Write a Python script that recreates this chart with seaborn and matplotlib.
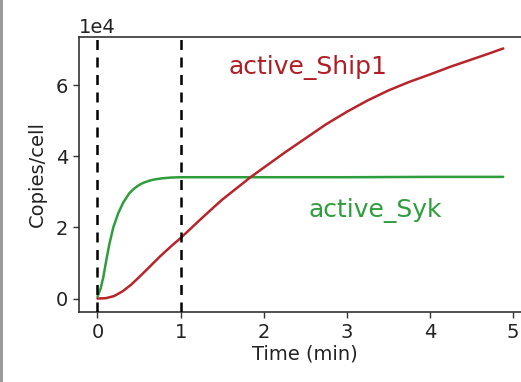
import matplotlib
matplotlib.use("Agg")
import matplotlib.pyplot as plt
import seaborn as sns
import pandas as pd
from matplotlib.patches import Rectangle

# Data (copies/cell, in units of 1e4 converted below)
syk_time = [0.0, 0.04, 0.07, 0.1, 0.14, 0.19, 0.25, 0.31, 0.38, 0.43, 0.48, 0.53, 0.57, 0.62, 0.67, 0.72, 0.78, 0.88, 1.0, 1.5, 2.0, 3.0, 4.0, 4.88]
syk_vals = [0.05, 0.3, 0.6, 1.0, 1.5, 2.0, 2.4, 2.7, 2.95, 3.07, 3.16, 3.23, 3.27, 3.31, 3.34, 3.36, 3.38, 3.40, 3.41, 3.41, 3.41, 3.41, 3.42, 3.42]

ship_time = [0.0, 0.1, 0.2, 0.3, 0.4, 0.5, 0.6, 0.75, 0.9, 1.0, 1.1, 1.25, 1.4, 1.5, 1.7, 1.84, 2.0, 2.25, 2.5, 2.75, 3.0, 3.25, 3.5, 3.75, 4.0, 4.25, 4.5, 4.7, 4.88]
ship_vals = [0.0, 0.01, 0.07, 0.2, 0.38, 0.6, 0.83, 1.18, 1.5, 1.7, 1.92, 2.25, 2.57, 2.78, 3.15, 3.41, 3.68, 4.1, 4.5, 4.9, 5.25, 5.57, 5.85, 6.09, 6.3, 6.52, 6.72, 6.88, 7.03]

scale = 1e4
df = pd.concat([
    pd.DataFrame({"time": syk_time, "copies": [v * scale for v in syk_vals], "species": "active_Syk"}),
    pd.DataFrame({"time": ship_time, "copies": [v * scale for v in ship_vals], "species": "active_Ship1"}),
])

x_ticks = [0, 1, 2, 3, 4, 5]
y_ticks = [0, 20000, 40000, 60000]
vlines = [0, 1]

sns.set_style("ticks")
plt.rcParams['font.family'] = ['DejaVu Sans']

fig = plt.figure(figsize=(5.21, 3.82), dpi=100)
ax = fig.add_axes([0.152, 0.184, 0.865, 0.719])

red = "#b8242a"
green = "#2e9e3c"
sns.lineplot(data=df, x="time", y="copies", hue="species",
             palette={"active_Syk": green, "active_Ship1": red},
             linewidth=1.8, legend=False, ax=ax, estimator=None, sort=True)

for v in vlines:
    ax.axvline(v, color="black", linestyle=(0, (4, 3)), linewidth=1.8, zorder=3)

ax.set_xlim(-0.22, 5.2)
ax.set_ylim(-3700, 73500)
ax.set_xticks(x_ticks)
ax.set_yticks(y_ticks)
ax.ticklabel_format(style='sci', axis='y', scilimits=(0, 0))
ax.yaxis.get_offset_text().set_fontsize(14)
ax.tick_params(labelsize=14, length=4, width=1, color="#333333", labelcolor="#222222", pad=4)
for s in ax.spines.values():
    s.set_color("#333333")
    s.set_linewidth(1.2)

ax.set_xlabel("Time (min)", fontsize=14, labelpad=2, color="#222222")
ax.set_ylabel("Copies/cell", fontsize=14, labelpad=6, color="#222222")

ax.text(1.57, 6.5e4, "active_Ship1", color="#b01e24", fontsize=18, va="center", ha="left")
ax.text(2.54, 2.48e4, "active_Syk", color="#2e9e3c", fontsize=18, va="center", ha="left")

fig.patches.append(Rectangle((0, 0), 3 / 521, 1, transform=fig.transFigure,
                             facecolor="#9a9a9a", edgecolor="none", zorder=10))

fig.savefig("out.png", dpi=100)
